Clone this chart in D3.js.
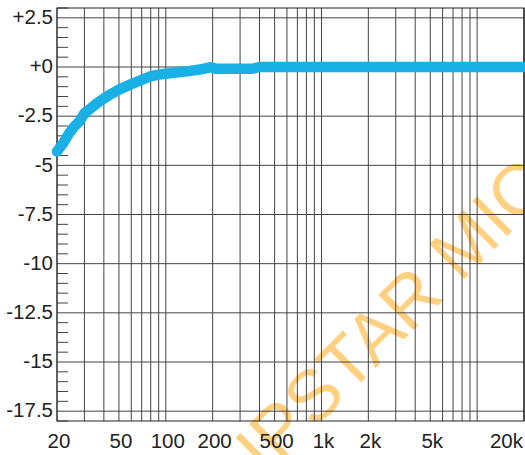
<!DOCTYPE html>
<html>
<head>
<meta charset="utf-8">
<script src="https://cdn.jsdelivr.net/npm/d3@7/dist/d3.min.js"></script>
<style>
  html, body { margin: 0; padding: 0; background: #fff; }
  svg { display: block; }
  text { font-family: "Liberation Sans", Arial, sans-serif; }
</style>
</head>
<body>
<svg id="chart" width="525" height="455"></svg>
<script>
// ---- data ----
const freqs = [20, 22, 24, 26, 28, 30, 33, 36, 40, 45, 50, 60, 70, 80, 90, 100, 120, 140, 165, 195, 210, 360, 400, 1000, 5000, 20000];
const levels = [-4.3, -3.85, -3.35, -3.0, -2.75, -2.35, -2.1, -1.85, -1.6, -1.35, -1.15, -0.87, -0.66, -0.47, -0.39, -0.34, -0.27, -0.21, -0.13, -0.01, -0.09, -0.09, 0.0, 0.0, 0.0, 0.0];
const yTickValues = [2.5, 0, -2.5, -5, -7.5, -10, -12.5, -15, -17.5];
const yTickLabels = ["+2.5", "+0", "-2.5", "-5", "-7.5", "-10", "-12.5", "-15", "-17.5"];
const xTickValues = [20, 50, 100, 200, 500, 1000, 2000, 5000, 20000];
const xTickLabels = ["20", "50", "100", "200", "500", "1k", "2k", "5k", "20k"];
const watermarkText = "IPSTAR MIC";

// ---- layout ----
const svg = d3.select("#chart");
const mLeft = 57, mRight = 524, mTop = 8, mBottom = 421;
const x = d3.scaleLog().domain([20, 20000]).range([mLeft, mRight]);
const y = d3.scaleLinear().domain([-18, 3]).range([mBottom, mTop]);

// watermark (under grid)
const fs = 72;
svg.append("g")
  .attr("transform", "translate(391.5,315.5) rotate(-45)")
  .append("text")
  .attr("x", 0).attr("y", 0).attr("dy", (0.358 * fs) + "px")
  .attr("text-anchor", "middle")
  .attr("font-size", fs + "px")
  .attr("fill", "#FFD080")
  .text(watermarkText);

// vertical grid lines: log grid 20..20k
const vGrid = [];
for (let dec = 10; dec <= 10000; dec *= 10) {
  for (let d = 1; d <= 9; d++) {
    const v = d * dec;
    if (v >= 20 && v <= 20000) vGrid.push(v);
  }
}
vGrid.push(20000);
svg.append("g").selectAll("line").data(vGrid).join("line")
  .attr("x1", d => x(d)).attr("x2", d => x(d))
  .attr("y1", mTop).attr("y2", mBottom)
  .attr("stroke", "#444").attr("stroke-width", 1);

// horizontal grid lines
svg.append("g").selectAll("line").data(yTickValues).join("line")
  .attr("x1", mLeft).attr("x2", mRight)
  .attr("y1", d => y(d)).attr("y2", d => y(d))
  .attr("stroke", "#444").attr("stroke-width", 1);

// minor y ticks every 0.5 dB
const minor = d3.range(-18, 3.01, 0.5).filter(v => Math.abs(v / 2.5 - Math.round(v / 2.5)) > 1e-6);
svg.append("g").selectAll("line").data(minor).join("line")
  .attr("x1", mLeft).attr("x2", mLeft + 11)
  .attr("y1", d => y(d)).attr("y2", d => y(d))
  .attr("stroke", "#444").attr("stroke-width", 1);

// frame
svg.append("rect")
  .attr("x", mLeft).attr("y", mTop)
  .attr("width", mRight - mLeft).attr("height", mBottom - mTop)
  .attr("fill", "none").attr("stroke", "#222").attr("stroke-width", 1);

// y labels
svg.append("g").selectAll("text").data(yTickValues).join("text")
  .attr("x", 53).attr("y", d => y(d) - 1).attr("dy", "0.35em")
  .attr("text-anchor", "end").attr("font-size", "20.5px").attr("fill", "#222")
  .text((d, i) => yTickLabels[i]);

// x labels
svg.append("g").selectAll("text").data(xTickValues).join("text")
  .attr("x", (d, i) => i === xTickValues.length - 1 ? 523 : x(d) + 2)
  .attr("y", 448)
  .attr("text-anchor", (d, i) => i === xTickValues.length - 1 ? "end" : "middle")
  .attr("font-size", "20.5px").attr("fill", "#222")
  .text((d, i) => xTickLabels[i]);

// response curve
const line = d3.line().x(d => x(d[0])).y(d => y(d[1]));
svg.append("path")
  .datum(freqs.map((f, i) => [f, levels[i]]))
  .attr("d", line)
  .attr("fill", "none")
  .attr("stroke", "#19B0E6")
  .attr("stroke-width", 10.5)
  .attr("stroke-linecap", "round")
  .attr("stroke-linejoin", "round");
</script>
</body>
</html>
